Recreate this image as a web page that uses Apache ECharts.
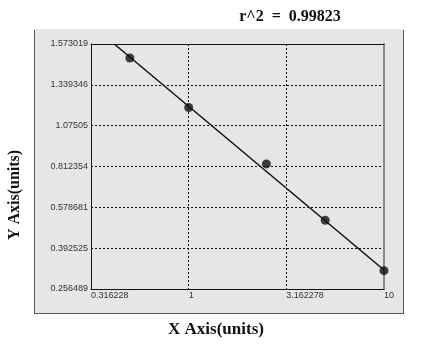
<!DOCTYPE html>
<html>
<head>
<meta charset="utf-8">
<script src="https://cdn.jsdelivr.net/npm/echarts@6/dist/echarts.min.js"></script>
<style>html,body{margin:0;padding:0;background:#fff}#c{width:432px;height:358px}</style>
</head>
<body>
<div id="c"></div>
<script>
// ---- data ----
const xTickLabels = ['0.316228', '1', '3.162278', '10'];
const yTickLabels = ['0.256489', '0.392525', '0.578681', '0.812354', '1.07505', '1.339346', '1.573019'];
const concentrations = [0.5, 1, 2.5, 5, 10];
const responses = [1.493, 1.193, 0.829, 0.520, 0.3176];
const fitX = [0.416, 10];
const fitY = [1.573019, 0.3199];
const titleText = 'r^2  =  0.99823';

// ---- scales ----
const yTickVals = yTickLabels.map(parseFloat);
function yIdx(v) {
  for (let i = 0; i < yTickVals.length - 1; i++) {
    if (v <= yTickVals[i + 1] || i === yTickVals.length - 2) {
      return i + (v - yTickVals[i]) / (yTickVals[i + 1] - yTickVals[i]);
    }
  }
}
function xPos(v) { return Math.log10(v); }

const pts = concentrations.map((x, i) => [xPos(x), yIdx(responses[i])]);
const fit = fitX.map((x, i) => [xPos(x), yIdx(fitY[i])]);

const G = { left: 91, top: 44, width: 293, height: 245 };
const chart = echarts.init(document.getElementById('c'), null, { renderer: 'canvas' });
const labelFont = { fontFamily: 'Liberation Sans, Arial, sans-serif', fontSize: 9, color: '#333' };

chart.setOption({
  animation: false,
  backgroundColor: '#fff',
  title: {
    text: titleText,
    left: 285, top: 4, textAlign: 'center',
    textStyle: { fontFamily: 'Liberation Serif, Times New Roman, serif', fontWeight: 'bold', fontSize: 16, color: '#111' }
  },
  graphic: [
    { type: 'rect', z: -10, shape: { x: 34, y: 29, width: 369, height: 284 }, style: { fill: '#e6e6e6' } },
    { type: 'line', z: -9, shape: { x1: 34.5, y1: 30, x2: 34.5, y2: 313.5 }, style: { stroke: '#555', lineWidth: 1 } },
    { type: 'line', z: -9, shape: { x1: 403.5, y1: 30, x2: 403.5, y2: 313.5 }, style: { stroke: '#555', lineWidth: 1 } },
    { type: 'line', z: -9, shape: { x1: 34, y1: 313.5, x2: 404, y2: 313.5 }, style: { stroke: '#555', lineWidth: 1 } },
    { type: 'text', x: 216, y: 330, style: { text: 'X Axis(units)', font: 'bold 17px "Liberation Serif", serif', fill: '#111', textAlign: 'center', textVerticalAlign: 'middle' } },
    { type: 'text', x: 15, y: 195, rotation: Math.PI / 2, style: { text: 'Y Axis(units)', font: 'bold 16px "Liberation Serif", serif', fill: '#111', textAlign: 'center', textVerticalAlign: 'middle' } }
  ],
  grid: G,
  xAxis: [{
    type: 'value', min: -0.5, max: 1, interval: 0.5,
    axisLine: { show: true, onZero: false, lineStyle: { color: '#111', width: 1 } },
    axisTick: { show: false },
    axisLabel: {
      ...labelFont, margin: 2, align: 'left',
      formatter: v => xTickLabels[Math.round((v + 0.5) / 0.5)]
    },
    splitLine: { show: true, lineStyle: { color: '#111', type: [2, 2], width: 1 } }
  }, {
    type: 'value', position: 'top', min: -0.5, max: 1,
    axisLine: { show: true, onZero: false, lineStyle: { color: '#111', width: 1 } },
    axisTick: { show: false }, axisLabel: { show: false }, splitLine: { show: false }
  }],
  yAxis: [{
    type: 'value', min: 0, max: 6, interval: 1,
    axisLine: { show: true, onZero: false, lineStyle: { color: '#111', width: 1 } },
    axisTick: { show: false },
    axisLabel: { ...labelFont, margin: 3, formatter: v => yTickLabels[Math.round(v)] },
    splitLine: { show: true, lineStyle: { color: '#111', type: [2, 2], width: 1 } }
  }, {
    type: 'value', position: 'right', min: 0, max: 6,
    axisLine: { show: true, onZero: false, lineStyle: { color: '#888', width: 2 } },
    axisTick: { show: false }, axisLabel: { show: false }, splitLine: { show: false }
  }],
  series: [{
    type: 'line', data: fit, symbol: 'none', clip: true,
    lineStyle: { color: '#111', width: 1.5 }, z: 3
  }, {
    type: 'scatter', data: pts, symbol: 'circle', symbolSize: 9,
    itemStyle: { color: '#111' }, z: 4
  }]
});
</script>
</body>
</html>
